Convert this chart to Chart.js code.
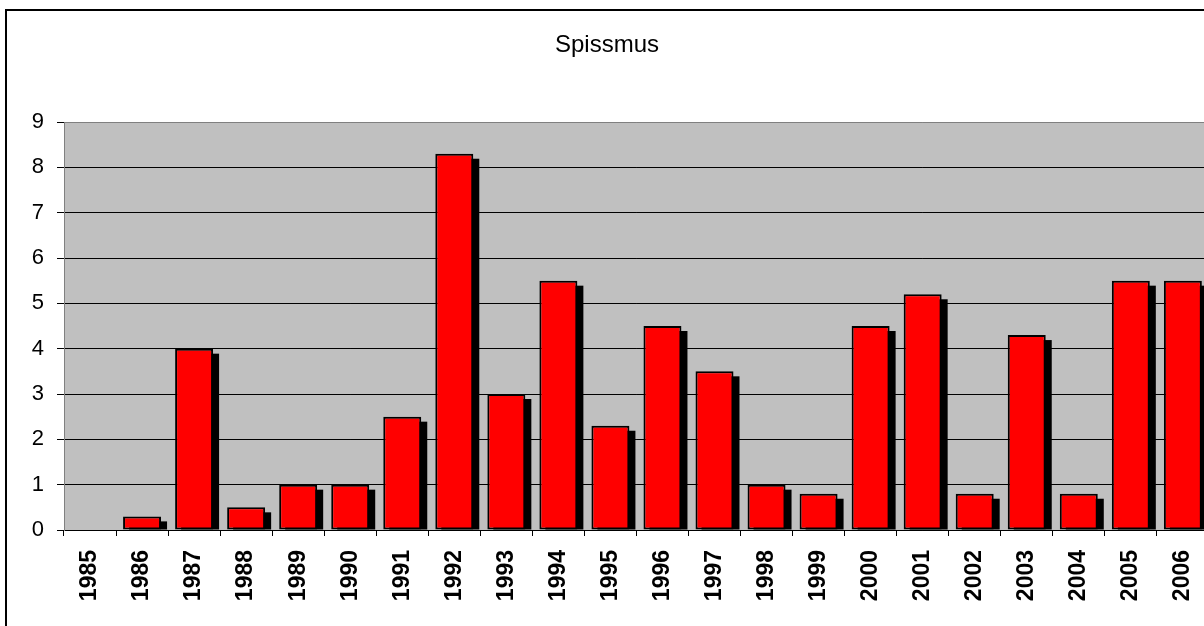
<!DOCTYPE html>
<html>
<head>
<meta charset="utf-8">
<script src="https://cdn.jsdelivr.net/npm/chart.js@4"></script>
<style>
  html, body { margin: 0; padding: 0; background: #ffffff; overflow: hidden; width: 1204px; height: 626px; }
  #wrap { position: absolute; left: 0; top: 0; width: 1220px; height: 626px; }
  #frame { position: absolute; left: 5px; top: 9px; width: 1300px; height: 700px; border-left: 2px solid #000; border-top: 2px solid #000; pointer-events: none; }
</style>
</head>
<body>
<div id="wrap"><canvas id="c" width="1220" height="626"></canvas></div>
<div id="frame"></div>
<script>
const chartTitle = "Spissmus";
const years = ["1985","1986","1987","1988","1989","1990","1991","1992","1993","1994","1995","1996","1997","1998","1999","2000","2001","2002","2003","2004","2005","2006"];
const values = [0, 0.3, 4.0, 0.5, 1.0, 1.0, 2.5, 8.3, 3.0, 5.5, 2.3, 4.5, 3.5, 1.0, 0.8, 4.5, 5.2, 0.8, 4.3, 0.8, 5.5, 5.5];
const yTicks = [0, 1, 2, 3, 4, 5, 6, 7, 8, 9];

const plotBg = {
  id: 'plotBg',
  beforeDraw(chart) {
    const a = chart.chartArea, ctx = chart.ctx;
    ctx.save();
    ctx.fillStyle = '#C0C0C0';
    ctx.fillRect(a.left, a.top, a.right - a.left, a.bottom - a.top);
    ctx.restore();
  }
};

const barShadow = {
  id: 'barShadow',
  beforeDatasetsDraw(chart) {
    const ctx = chart.ctx;
    const meta = chart.getDatasetMeta(0);
    ctx.save();
    ctx.fillStyle = '#000000';
    meta.data.forEach((el) => {
      const p = el.getProps(['x', 'y', 'base', 'width'], true);
      const h = p.base - p.y;
      if (h > 5) {
        ctx.fillRect(p.x - p.width / 2 + 6, p.y + 5, p.width, h - 5);
      }
    });
    ctx.restore();
  }
};

new Chart(document.getElementById('c'), {
  type: 'bar',
  data: {
    labels: years,
    datasets: [{
      data: values,
      backgroundColor: '#FF0000',
      borderColor: '#000000',
      borderWidth: 2,
      borderSkipped: false,
      categoryPercentage: 1.0,
      barPercentage: 0.73
    }]
  },
  options: {
    responsive: false,
    animation: false,
    devicePixelRatio: 1,
    layout: { padding: { left: 0, right: 6, top: 0, bottom: 0 } },
    plugins: {
      legend: { display: false },
      tooltip: { enabled: false },
      title: {
        display: true,
        text: chartTitle,
        color: '#000000',
        font: { family: 'Liberation Sans, Arial, sans-serif', size: 24, weight: 'normal', lineHeight: 1.2 },
        padding: { top: 31, bottom: 62.2 }
      }
    },
    scales: {
      x: {
        offset: true,
        grid: {
          offset: true,
          display: true,
          drawOnChartArea: false,
          drawTicks: true,
          tickLength: 6,
          color: '#000000',
          lineWidth: 1
        },
        border: { display: true, color: '#000000', width: 1 },
        ticks: {
          autoSkip: false,
          maxRotation: 90,
          minRotation: 90,
          padding: 14,
          color: '#000000',
          font: { family: 'Liberation Sans, Arial, sans-serif', size: 23, weight: 'bold', lineHeight: 1 }
        },
        afterFit(scale) { scale.height = 96; }
      },
      y: {
        min: 0,
        max: 9,
        afterBuildTicks(scale) { scale.ticks = yTicks.map(v => ({ value: v })); },
        grid: {
          color: (ctx) => (ctx.tick && ctx.tick.value === 9) ? '#808080' : '#000000',
          lineWidth: 1,
          drawTicks: true,
          tickLength: 7,
          tickColor: '#000000'
        },
        border: { display: true, color: '#808080', width: 1 },
        ticks: {
          padding: 13,
          color: '#000000',
          font: { family: 'Liberation Sans, Arial, sans-serif', size: 22, weight: 'normal' }
        },
        afterFit(scale) { scale.width = 64; }
      }
    }
  },
  plugins: [plotBg, barShadow]
});
</script>
</body>
</html>
